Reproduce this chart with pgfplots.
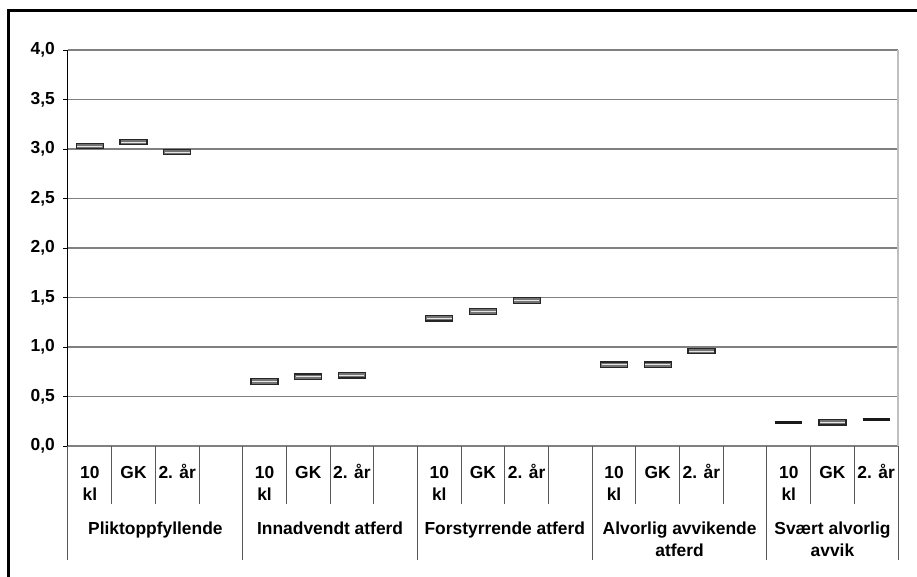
\documentclass[border=0pt]{standalone}
\usepackage{pgfplots}
\pgfplotsset{compat=1.18}
\usepackage{fontspec}
\setmainfont{Liberation Sans}
\newcommand{\lf}{\bfseries\fontsize{17.4}{22}\selectfont}
\pgfdeclareplotmark{hbox}{%
  \pgfsetlinewidth{1.2pt}%
  \pgfsetstrokecolor{black!85}\pgfsetfillcolor{black!55}%
  \pgfpathrectangle{\pgfpoint{-13.5pt}{-2.8pt}}{\pgfpoint{27pt}{5.6pt}}%
  \pgfusepath{fill,stroke}%
  \pgfsetstrokecolor{black!10}\pgfsetlinewidth{0.9pt}%
  \pgfpathmoveto{\pgfpoint{-12.5pt}{0pt}}\pgfpathlineto{\pgfpoint{12.5pt}{0pt}}%
  \pgfusepath{stroke}%
}
\pgfdeclareplotmark{hthin}{%
  \pgfsetlinewidth{2.8pt}%
  \pgfsetstrokecolor{black!90}%
  \pgfpathmoveto{\pgfpoint{-13.5pt}{0pt}}\pgfpathlineto{\pgfpoint{13.5pt}{0pt}}%
  \pgfusepath{stroke}%
}
\begin{document}
\begin{tikzpicture}
\begin{axis}[name=ax,
  scale only axis, width=830pt, height=396pt,
  xmin=0, xmax=19, ymin=0, ymax=4,
  xtick=\empty, ytick={0,0.5,1,1.5,2,2.5,3,3.5,4},
  ytick pos=left, tick align=outside, major tick length=5pt,
  tick style={black, line width=0.8pt},
  axis line style={draw=none},
  ymajorgrids, grid style={black!50, line width=1.1pt},
  clip=false,
  /pgf/number format/assume math mode=true,
  y tick label style={font=\lf, inner sep=0pt, xshift=-8pt, /pgf/number format/fixed, /pgf/number format/fixed zerofill, /pgf/number format/precision=1, /pgf/number format/use comma},
]
% right edge of plot area
\draw[black!25, line width=1.2pt] (axis cs:19,0) -- (axis cs:19,4);
% category table lines
\pgfplotsinvokeforeach{4,8,12,16,19}{\draw[black!65, line width=1pt] (axis cs:#1,0) -- ++(0,-114pt);}
\pgfplotsinvokeforeach{1,2,3,5,6,7,9,10,11,13,14,15,17,18}{\draw[black!65, line width=1pt] (axis cs:#1,0) -- ++(0,-58pt);}
\draw[black!65, line width=1pt] (axis cs:0,0) -- ++(0,-114pt);
\draw[black, line width=1pt] (axis cs:0,0) -- (axis cs:0,4);
% sub labels
\pgfplotsinvokeforeach{0.5,4.5,8.5,12.5,16.5}{%
  \node[anchor=base, font=\lf, inner sep=0pt] at ([yshift=-32pt]axis cs:#1,0) {10};
  \node[anchor=base, font=\lf, inner sep=0pt] at ([yshift=-54pt]axis cs:#1,0) {kl};}
\pgfplotsinvokeforeach{1.5,5.5,9.5,13.5,17.5}{%
  \node[anchor=base, font=\lf, inner sep=0pt] at ([yshift=-32pt]axis cs:#1,0) {GK};}
\pgfplotsinvokeforeach{2.5,6.5,10.5,14.5,18.5}{%
  \node[anchor=base, font=\lf, inner sep=0pt] at ([yshift=-32pt]axis cs:#1,0) {2. år};}
% group labels
\node[anchor=base, font=\lf, inner sep=0pt] at ([yshift=-88pt]axis cs:2,0) {Pliktoppfyllende};
\node[anchor=base, font=\lf, inner sep=0pt] at ([yshift=-88pt]axis cs:6,0) {Innadvendt atferd};
\node[anchor=base, font=\lf, inner sep=0pt] at ([yshift=-88pt]axis cs:10,0) {Forstyrrende atferd};
\node[anchor=base, font=\lf, inner sep=0pt] at ([yshift=-88pt]axis cs:14,0) {Alvorlig avvikende};
\node[anchor=base, font=\lf, inner sep=0pt] at ([yshift=-110pt]axis cs:14,0) {atferd};
\node[anchor=base, font=\lf, inner sep=0pt] at ([yshift=-88pt]axis cs:17.5,0) {Svært alvorlig};
\node[anchor=base, font=\lf, inner sep=0pt] at ([yshift=-110pt]axis cs:17.5,0) {avvik};
% data
\addplot[only marks, mark=hbox] coordinates {
 (0.5,3.03) (1.5,3.07) (2.5,2.97)
 (4.5,0.65) (5.5,0.70) (6.5,0.715)
 (8.5,1.29) (9.5,1.36) (10.5,1.47)
 (12.5,0.82) (13.5,0.82) (14.5,0.96)
 (17.5,0.24)
};
\addplot[only marks, mark=hthin] coordinates {
 (16.5,0.24) (18.5,0.27)
};
\end{axis}
\draw[line width=3pt] ([xshift=-59.5pt,yshift=-140pt]ax.south west) -- ([xshift=-59.5pt,yshift=435pt]ax.south west) -- ([xshift=860pt,yshift=435pt]ax.south west);
\pgfresetboundingbox
\path ([xshift=-68pt,yshift=-130pt]ax.south west) rectangle ([xshift=849pt,yshift=446pt]ax.south west);
\end{tikzpicture}
\end{document}
